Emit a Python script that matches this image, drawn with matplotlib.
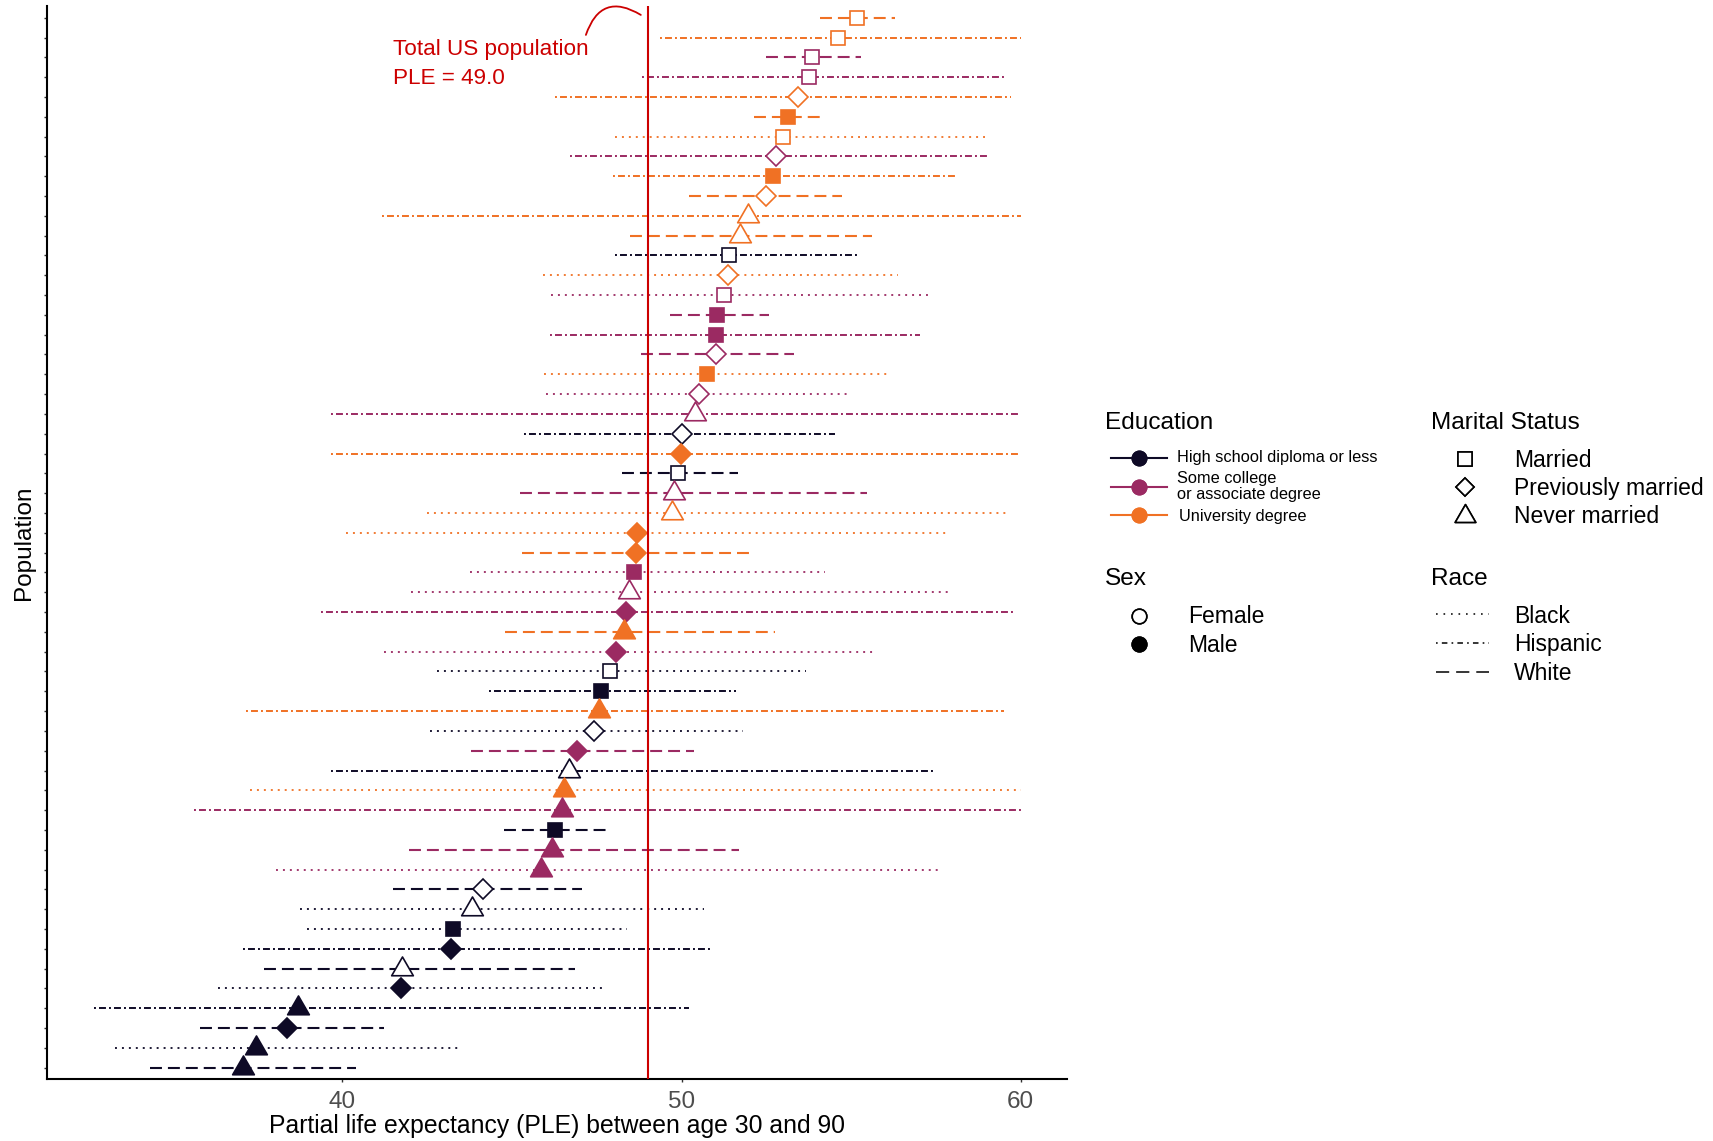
import matplotlib
matplotlib.use("Agg")
import matplotlib.pyplot as plt
from matplotlib.lines import Line2D
from matplotlib.path import Path

plt.rcParams['font.family'] = ['Liberation Sans', 'DejaVu Sans']
plt.rcParams['lines.scale_dashes'] = False

# One row per population group, listed from the top of the chart to the bottom
education = ["Univ", "Univ", "Some", "Some", "Univ", "Univ", "Univ", "Some", "Univ",
             "Univ", "Univ", "Univ", "HS", "Univ", "Some", "Some", "Some", "Some",
             "Univ", "Some", "Some", "HS", "Univ", "HS", "Some", "Univ", "Univ",
             "Univ", "Some", "Some", "Some", "Univ", "Some", "HS", "HS", "Univ",
             "HS", "Some", "HS", "Univ", "Some", "HS", "Some", "Some", "HS",
             "HS", "HS", "HS", "HS", "HS", "HS", "HS", "HS", "HS"]
marital = ["Married", "Married", "Married", "Married", "Previously", "Married", "Married",
           "Previously", "Married", "Previously", "Never", "Never", "Married", "Previously",
           "Married", "Married", "Married", "Previously", "Married", "Previously", "Never",
           "Previously", "Previously", "Married", "Never", "Never", "Previously", "Previously",
           "Married", "Never", "Previously", "Never", "Previously", "Married", "Married",
           "Never", "Previously", "Previously", "Never", "Never", "Never", "Married",
           "Never", "Never", "Previously", "Never", "Married", "Previously", "Never",
           "Previously", "Never", "Previously", "Never", "Never"]
sex = ["F", "F", "F", "F", "F", "M", "F", "F", "M", "F", "F", "F", "F", "F", "F", "M", "M", "F",
       "M", "F", "F", "F", "M", "F", "F", "F", "M", "M", "M", "F", "M", "M", "M", "F", "M", "M",
       "F", "M", "F", "M", "M", "M", "M", "M", "F", "F", "M", "M", "F", "M", "M", "M", "M", "M"]
race = ["White", "Hispanic", "White", "Hispanic", "Hispanic", "White", "Black", "Hispanic",
        "Hispanic", "White", "Hispanic", "White", "Hispanic", "Black", "Black", "White",
        "Hispanic", "White", "Black", "Black", "Hispanic", "Hispanic", "Hispanic", "White",
        "White", "Black", "Black", "White", "Black", "Black", "Hispanic", "White", "Black",
        "Black", "Hispanic", "Hispanic", "Black", "White", "Hispanic", "Black", "Hispanic",
        "White", "White", "Black", "White", "Black", "Black", "Hispanic", "White", "Black",
        "Hispanic", "White", "Black", "White"]
ple = [55.18, 54.61, 53.86, 53.75, 53.43, 53.15, 53.00, 52.78, 52.70, 52.49, 51.97, 51.74,
       51.40, 51.38, 51.24, 51.05, 51.03, 51.03, 50.75, 50.52, 50.40, 50.02, 49.98, 49.91,
       49.79, 49.71, 48.70, 48.65, 48.59, 48.45, 48.37, 48.31, 48.07, 47.90, 47.64, 47.56,
       47.42, 46.93, 46.68, 46.54, 46.48, 46.28, 46.18, 45.87, 44.14, 43.82, 43.27, 43.21,
       41.77, 41.73, 38.70, 38.37, 37.44, 37.07]
ci_low = [54.08, 49.37, 52.49, 48.84, 46.26, 52.15, 48.05, 46.70, 47.98, 50.22, 41.18, 48.47,
          48.05, 45.91, 46.16, 49.65, 46.12, 48.80, 45.95, 45.99, 39.65, 45.34, 39.65, 48.25,
          45.24, 42.50, 40.10, 45.30, 43.76, 42.03, 39.37, 44.79, 41.24, 42.80, 44.33, 37.16,
          42.58, 43.80, 39.65, 37.26, 35.61, 44.77, 41.95, 38.05, 41.48, 38.74, 38.94, 37.07,
          37.68, 36.32, 32.67, 35.79, 33.30, 34.31]
ci_high = [56.31, 60.00, 55.30, 59.57, 59.73, 54.22, 58.96, 59.00, 58.14, 54.73, 60.00, 55.62,
           55.26, 56.38, 57.37, 52.58, 57.03, 53.31, 56.19, 54.99, 60.00, 54.53, 60.00, 51.68,
           55.46, 59.57, 57.84, 52.05, 54.24, 57.90, 59.83, 52.76, 55.66, 53.67, 51.60, 59.52,
           51.80, 50.38, 57.43, 60.00, 60.00, 47.90, 51.70, 57.66, 47.07, 50.65, 48.39, 50.85,
           46.87, 47.66, 50.22, 41.24, 43.47, 40.41]
total_ple = 49.0

edu_labels = ["High school diploma or less", "Some college\nor associate degree", "University degree"]
edu_keys = ["HS", "Some", "Univ"]
marital_labels = ["Married", "Previously married", "Never married"]
marital_keys = ["Married", "Previously", "Never"]
sex_labels = ["Female", "Male"]
race_labels = ["Black", "Hispanic", "White"]
x_ticks = [40, 50, 60]

RED = "#CC0000"
edu_color = {"HS": "#0E0A26", "Some": "#9B2A62", "Univ": "#F07124"}
race_style = {
    "Black": dict(ls=(0, (1.4, 3.6)), lw=1.3),
    "Hispanic": dict(ls=(0, (1.4, 2.2, 5.0, 2.2)), lw=1.4),
    "White": dict(ls=(0, (8.6, 4.3)), lw=1.5),
}
triangle = Path([(0, 1.1547), (-1, -0.57735), (1, -0.57735), (0, 1.1547)],
                [Path.MOVETO, Path.LINETO, Path.LINETO, Path.CLOSEPOLY])
marker_shape = {"Married": ("s", 10.4), "Previously": ("D", 9.8), "Never": (triangle, 18.0)}

W, H = 1713, 1141
fig = plt.figure(figsize=(W / 100, H / 100), dpi=100)
ax = fig.add_axes([46.8 / W, 1 - 1079.3 / H, (1067 - 46.8) / W, (1079.3 - 6) / H])

n = len(ple)
ys = [n - i for i in range(n)]
for i in range(n):
    c = edu_color[education[i]]
    st = race_style[race[i]]
    ax.plot([ci_low[i], ci_high[i]], [ys[i], ys[i]], color=c, ls=st["ls"], lw=st["lw"],
            dash_capstyle="butt", zorder=2)
for i in range(n):
    c = edu_color[education[i]]
    m, ms = marker_shape[marital[i]]
    face = c if sex[i] == "M" else "white"
    ax.plot([ple[i]], [ys[i]], ls="none", marker=m, ms=ms, mfc=face, mec=c, mew=1.2, zorder=4)

ax.axvline(total_ple, color=RED, lw=1.5, zorder=5)
ax.text(41.48, 52.12, "Total US population", color=RED, fontsize=16.2, va="baseline", ha="left")
ax.text(41.48, 50.64, f"PLE = {total_ple:.1f}", color=RED, fontsize=16.2, va="baseline", ha="left")
ax.annotate("", xy=(48.80, 54.14), xytext=(47.18, 53.13),
            arrowprops=dict(arrowstyle="-", color=RED, lw=1.3, shrinkA=0, shrinkB=0,
                            connectionstyle="arc3,rad=-0.62"))

ax.set_xlim(31.28, 61.37)
ax.set_ylim(0.415, n + 0.59)
ax.set_xticks(x_ticks)
ax.set_xticklabels([str(t) for t in x_ticks])
ax.set_yticks(ys)
ax.set_yticklabels([])
ax.tick_params(axis="x", length=2.5, width=1, color="#333333", labelsize=17.5, labelcolor="#4D4D4D", pad=6.0)
ax.tick_params(axis="y", length=2.5, width=1, color="#333333")
for s in ["top", "right"]:
    ax.spines[s].set_visible(False)
for s in ["left", "bottom"]:
    ax.spines[s].set_linewidth(1.5)
    ax.spines[s].set_color("black")

fig.text(556.9 / W, 1 - 1133 / H, "Partial life expectancy (PLE) between age 30 and 90",
         fontsize=17.8, ha="center", va="baseline")
fig.text(24 / W, 1 - 542.5 / H, "Population", fontsize=17.5, rotation=90, ha="center", va="center")


def fx(x):
    return x / W


def fy(y):
    return 1 - y / H


def key(x0, x1, y, **kw):
    fig.add_artist(Line2D([fx(x0), fx(x1)], [fy(y), fy(y)], transform=fig.transFigure, **kw))


def label(x, y, s, size):
    fig.text(fx(x), fy(y), s, fontsize=size, ha="left", va="baseline")


# Education
label(1105, 429.3, "Education", 17.6)
edu_key_y = [457.7, 486.7, 515.3]
for k, yk in zip(edu_keys, edu_key_y):
    key(1111, 1166.7, yk, color=edu_color[k], lw=1.5)
    key(1138.9, 1138.9, yk, color=edu_color[k], ls="none", marker="o", ms=10.5)
label(1177.4, 461.7, edu_labels[0], 11.8)
label(1177.4, 482.7, edu_labels[1].split("\n")[0], 11.8)
label(1177.4, 499.3, edu_labels[1].split("\n")[1], 11.8)
label(1179.0, 520.7, edu_labels[2], 11.8)

# Marital status
label(1431, 429.3, "Marital Status", 17.6)
mar_key_y = [458.5, 486.7, 515.7]
mar_text_y = [466.7, 495.0, 523.3]
for k, yk, yt, txt in zip(marital_keys, mar_key_y, mar_text_y, marital_labels):
    m, ms = marker_shape[k]
    key(1465, 1465, yk, ls="none", marker=m, ms=ms * 0.95, mfc="white", mec="black", mew=1.2)
    label(1514.3, yt, txt, 16.5)

# Sex
label(1105, 585, "Sex", 17.6)
for txt, yk, yt, face in zip(sex_labels, [616, 644], [623.3, 651.7], ["white", "black"]):
    key(1139, 1139, yk, ls="none", marker="o", ms=10.5, mfc=face, mec="black", mew=1.2)
    label(1188, yt, txt, 16.5)

# Race
label(1431, 585, "Race", 17.6)
race_key_ls = {"Black": (0, (1.2, 4.2)), "Hispanic": (0, (1.2, 3.0, 4.0, 3.0)), "White": (0, (9.5, 5.0))}
for txt, yk, yt in zip(race_labels, [614.3, 642.7, 671.7], [622.7, 651.0, 680.0]):
    key(1436.4, 1489.3, yk, color="black", ls=race_key_ls[txt], lw=1.1, dash_capstyle="butt")
    label(1514.3, yt, txt, 16.5)

fig.savefig("out.png", dpi=100)
